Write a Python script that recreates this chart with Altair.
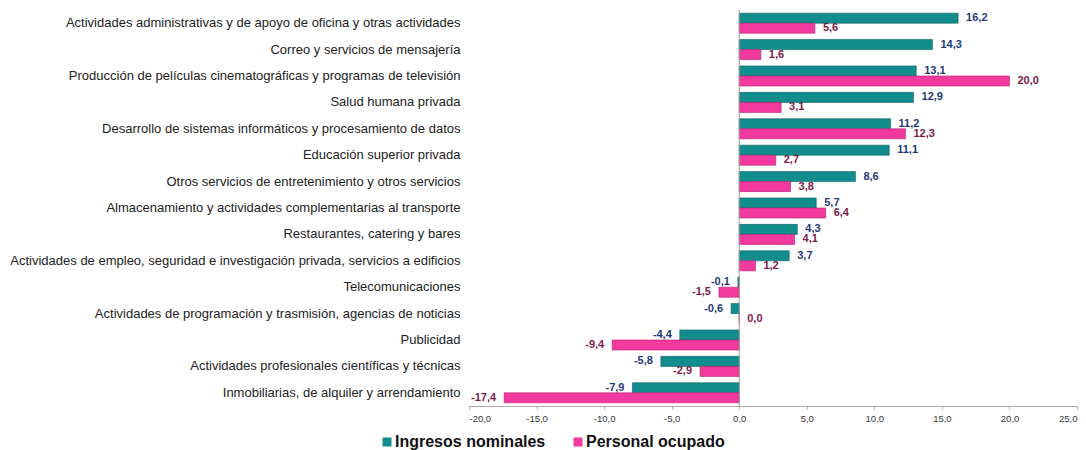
import altair as alt
import pandas as pd

categories = [
    "Actividades administrativas y de apoyo de oficina y otras actividades",
    "Correo y servicios de mensajería",
    "Producción de películas cinematográficas y programas de televisión",
    "Salud humana privada",
    "Desarrollo de sistemas informáticos y procesamiento de datos",
    "Educación superior privada",
    "Otros servicios de entretenimiento y otros servicios",
    "Almacenamiento y actividades complementarias al transporte",
    "Restaurantes, catering y bares",
    "Actividades de empleo, seguridad e investigación privada, servicios a edificios",
    "Telecomunicaciones",
    "Actividades de programación y trasmisión, agencias de noticias",
    "Publicidad",
    "Actividades profesionales científicas y técnicas",
    "Inmobiliarias, de alquiler y arrendamiento",
]
ingresos = [16.2, 14.3, 13.1, 12.9, 11.2, 11.1, 8.6, 5.7, 4.3, 3.7, -0.1, -0.6, -4.4, -5.8, -7.9]
personal = [5.6, 1.6, 20.0, 3.1, 12.3, 2.7, 3.8, 6.4, 4.1, 1.2, -1.5, 0.0, -9.4, -2.9, -17.4]
series_names = ["Ingresos nominales", "Personal ocupado"]
x_ticks = [-20, -15, -10, -5, 0, 5, 10, 15, 20, 25]

rows = []
for c, a, b in zip(categories, ingresos, personal):
    rows.append({"cat": c, "series": series_names[0], "value": a})
    rows.append({"cat": c, "series": series_names[1], "value": b})
df = pd.DataFrame(rows)
df["label"] = df["value"].map(lambda v: f"{v:.1f}".replace(".", ","))

y_enc = alt.Y("cat:N", sort=categories, title=None,
              scale=alt.Scale(paddingInner=0.24, paddingOuter=0.12),
              axis=alt.Axis(domain=False, ticks=False, labelFontSize=13, labelColor="#222",
                            labelPadding=9, labelLimit=600, labelFont="Liberation Sans"))
x_enc = alt.X("value:Q", title=None,
              scale=alt.Scale(domain=[-20, 25], nice=False, zero=False),
              axis=alt.Axis(values=x_ticks, grid=False, labelFontSize=9.5, labelColor="#333",
                            domainColor="#aaa", tickColor="#aaa", tickSize=3,
                            labelFont="Liberation Sans", labelPadding=4, labelFlush=True,
                            labelExpr="replace(replace(format(datum.value, '.1f'), '.', ','), '\u2212', '-')"))
yoff = alt.YOffset("series:N", sort=series_names, scale=alt.Scale(paddingInner=0, paddingOuter=0))

bars = alt.Chart(df).mark_bar(strokeWidth=0.6).encode(
    y=y_enc, x=x_enc, yOffset=yoff,
    color=alt.Color("series:N", sort=series_names,
                    scale=alt.Scale(domain=series_names, range=["#118D8D", "#F2399E"]),
                    legend=alt.Legend(title=None, orient="none", direction="horizontal",
                                      legendX=-90, legendY=424, symbolType="square",
                                      symbolSize=81, labelFontSize=16, labelFontWeight="bold",
                                      labelFont="Liberation Sans", labelColor="#111",
                                      labelOffset=0, columnPadding=24, symbolStrokeWidth=0)),
    stroke=alt.Stroke("series:N", sort=series_names,
                      scale=alt.Scale(domain=series_names, range=["#0A5E5E", "#B81F72"]),
                      legend=None),
)

txt_color = alt.condition(alt.datum.series == series_names[0], alt.value("#1F3A7A"), alt.value("#7A1C4A"))

pos_text = alt.Chart(df).transform_filter(alt.datum.value >= 0).mark_text(
    align="left", baseline="middle", dx=8, fontSize=11, fontWeight="bold", font="Liberation Sans"
).encode(y=alt.Y("cat:N", sort=categories), x="value:Q", yOffset=yoff, text="label:N", color=txt_color)

neg_text = alt.Chart(df).transform_filter(alt.datum.value < 0).mark_text(
    align="right", baseline="middle", dx=-8, fontSize=11, fontWeight="bold", font="Liberation Sans"
).encode(y=alt.Y("cat:N", sort=categories), x="value:Q", yOffset=yoff, text="label:N", color=txt_color)

zero = alt.Chart(pd.DataFrame({"z": [0]})).mark_rule(color="#999", strokeWidth=1).encode(x="z:Q")

chart = alt.layer(bars, zero, pos_text, neg_text).properties(
    width=608, height=396, padding={"top": 1, "left": 1, "right": 0, "bottom": 0}
).configure_view(stroke=None).configure_axis(labelFont="Liberation Sans")

chart.save("out.html", embed_options={"renderer": "svg", "actions": False})
